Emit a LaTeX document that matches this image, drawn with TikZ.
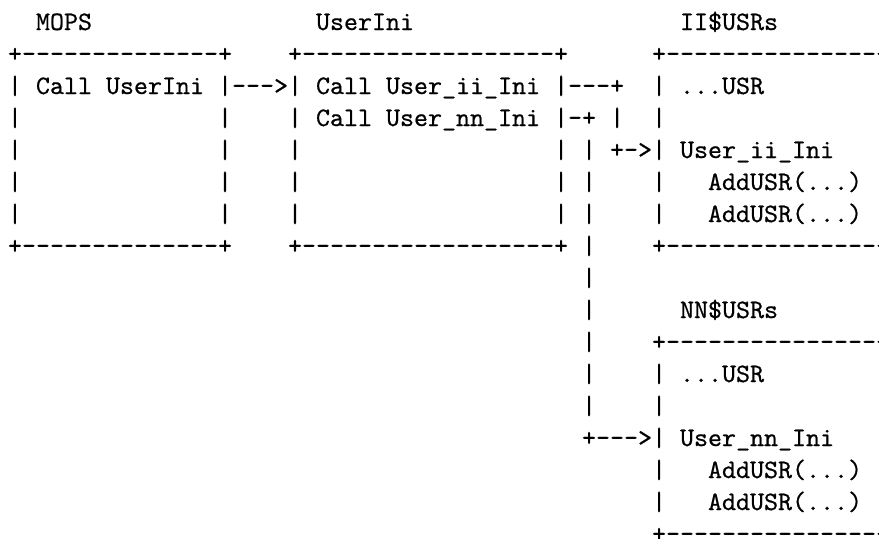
\documentclass[tikz,border=0pt]{standalone}
\usepackage{fontspec}
\setmonofont{lmmono10-regular.otf}[FakeBold=0.6]
\usepackage{tikz}

\newcommand{\asciifont}{\fontsize{26.67pt}{32pt}\selectfont\ttfamily}

\tikzset{
  ascii/.style={anchor=base west, inner sep=0pt, outer sep=0pt, font=\asciifont},
}

\begin{document}
\begin{tikzpicture}[x=14pt, y=-32pt]
\useasboundingbox (-0.571,-0.9375) rectangle (62.21,15.875);
\clip (-0.571,-0.9375) rectangle (62.21,15.875);
% titles
\node[ascii] (mopsTitle) at (2,0) {MOPS};
\node[ascii] (iniTitle) at (22,0) {UserIni};
\node[ascii] (iiTitle) at (48,0) {II\$USRs};
% top borders
\node[ascii] (mopsTop) at (0,1) {+--------------+};
\node[ascii] (iniTop) at (20,1) {+------------------+};
\node[ascii] (iiTop) at (46,1) {+----------------};
% calls
\node[ascii] (callIni) at (0,2) {| Call UserIni |--->| Call User\_ii\_Ini |---+};
\node[ascii] (iiUsr) at (46,2) {| ...USR};
\node[ascii] (callNn) at (20,3) {| Call User\_nn\_Ini |-+ |};
\node[ascii] (iiSide) at (46,3) {|};
\node[ascii] (iiIni) at (39,4) {| | +->| User\_ii\_Ini};
% box sides
\foreach \r in {3,...,6} {
  \node[ascii] (mopsL\r) at (0,\r) {|};
  \node[ascii] (mopsR\r) at (15,\r) {|};
}
\foreach \r in {4,5,6} \node[ascii] (iniL\r) at (20,\r) {|};
\foreach \r in {5,6} {
  \node[ascii] (iniR\r) at (39,\r) {| |};
  \node[ascii] (iiL\r) at (46,\r) {|};
  \node[ascii] (iiAdd\r) at (50,\r) {AddUSR(...)};
}
% bottom borders
\node[ascii] (mopsBot) at (0,7) {+--------------+};
\node[ascii] (iniBot) at (20,7) {+------------------+ |};
\node[ascii] (iiBot) at (46,7) {+----------------};
% link down to NN$USRs
\foreach \r in {8,...,12} \node[ascii] (link\r) at (41,\r) {|};
\node[ascii] (nnTitle) at (48,9) {NN\$USRs};
\node[ascii] (nnTop) at (46,10) {+----------------};
\node[ascii] (nnUsr) at (46,11) {| ...USR};
\node[ascii] (nnSide) at (46,12) {|};
\node[ascii] (nnIni) at (41,13) {+--->| User\_nn\_Ini};
\foreach \r in {14,15} {
  \node[ascii] (nnL\r) at (46,\r) {|};
  \node[ascii] (nnAdd\r) at (50,\r) {AddUSR(...)};
}
\node[ascii] (nnBot) at (46,16) {+----------------};
\end{tikzpicture}
\end{document}
